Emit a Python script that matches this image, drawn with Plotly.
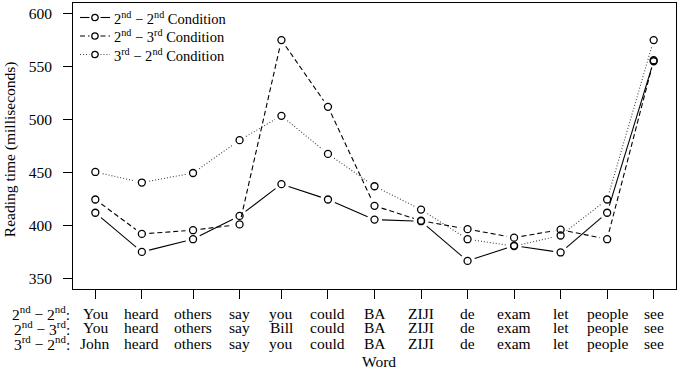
import math
import plotly.graph_objects as go

# ---- data ----
words_22 = ["You", "heard", "others", "say", "you", "could", "BA", "ZIJI", "de", "exam", "let", "people", "see"]
words_23 = ["You", "heard", "others", "say", "Bill", "could", "BA", "ZIJI", "de", "exam", "let", "people", "see"]
words_32 = ["John", "heard", "others", "say", "you", "could", "BA", "ZIJI", "de", "exam", "let", "people", "see"]
x_pos = [1, 2, 3.1, 4.1, 5, 6, 7, 8, 9, 10, 11, 12, 13]
cond22 = [412, 375, 387, 409, 439, 424.5, 405.5, 404, 366.5, 381, 374.5, 412, 555]
cond23 = [424.5, 392, 395.5, 401, 575, 512, 418.5, 404.5, 396.5, 388.5, 396, 387, 556]
cond32 = [450.5, 440.5, 449.5, 480.5, 503.5, 467.5, 437, 415, 387, 380.5, 390.5, 424.5, 575]
y_ticks = [350, 400, 450, 500, 550, 600]
row_prefix = ["2<sup>nd</sup> \u2212 2<sup>nd</sup>:", "2<sup>nd</sup> \u2212 3<sup>rd</sup>:", "3<sup>rd</sup> \u2212 2<sup>nd</sup>:"]
names = ["2<sup>nd</sup> \u2212 2<sup>nd</sup> Condition",
         "2<sup>nd</sup> \u2212 3<sup>rd</sup> Condition",
         "3<sup>rd</sup> \u2212 2<sup>nd</sup> Condition"]

# ---- layout constants ----
W, H = 680, 371
ML, MR, MT, MB = 73, 4, 3, 82
XR = [0.52, 13.48]
YR = [340, 610]
PW, PH = W - ML - MR, H - MT - MB
sx = PW / (XR[1] - XR[0])
sy = PH / (YR[1] - YR[0])
FONT = "Liberation Serif, Times New Roman, serif"


def px_x(p):
    return (p - ML) / PW


def px_y(p):
    return (MT + PH - p) / PH


def gapped(xs, ys, g=7.5):
    X, Y = [], []
    for i in range(len(xs) - 1):
        dx = (xs[i + 1] - xs[i]) * sx
        dy = (ys[i + 1] - ys[i]) * sy
        L = math.hypot(dx, dy)
        if L <= 2 * g:
            continue
        f = g / L
        X += [xs[i] + f * (xs[i + 1] - xs[i]), xs[i + 1] - f * (xs[i + 1] - xs[i]), None]
        Y += [ys[i] + f * (ys[i + 1] - ys[i]), ys[i + 1] - f * (ys[i + 1] - ys[i]), None]
    return X, Y


fig = go.Figure()
styles = [("solid", "black"), ("5px,3px", "black"), ("1px,2px", "#444444")]
series = [cond22, cond23, cond32]
for s, (dash, col), nm in zip(series, styles, names):
    gx, gy = gapped(x_pos, s)
    fig.add_trace(go.Scatter(x=gx, y=gy, mode="lines", line=dict(color=col, width=1.1, dash=dash),
                             showlegend=False, hoverinfo="skip"))
    fig.add_trace(go.Scatter(x=x_pos, y=s, mode="markers", name=nm,
                             marker=dict(symbol="circle-open", size=7, color="black", line=dict(width=1.3)),
                             showlegend=False))

ann = []
shapes = []
# manual legend
leg_rows = [17.5, 36, 54.5]
for (dash, col), nm, ly in zip(styles, names, leg_rows):
    yy = px_y(ly)
    for a, b in [(80, 89.5), (100.5, 110)]:
        shapes.append(dict(type="line", xref="paper", yref="paper", x0=px_x(a), x1=px_x(b), y0=yy, y1=yy,
                           line=dict(color=col, width=1.1, dash=dash)))
    shapes.append(dict(type="circle", xref="paper", yref="paper", xsizemode="pixel", ysizemode="pixel",
                       xanchor=px_x(95), yanchor=yy, x0=-3.2, x1=3.2, y0=-3.2, y1=3.2,
                       line=dict(color="black", width=1.3)))
    ann.append(dict(x=px_x(112), xref="paper", y=yy, yref="paper", text=nm, showarrow=False,
                    xanchor="left", yanchor="middle", font=dict(family=FONT, size=14.5, color="black")))

rows = [words_22, words_23, words_32]
row_y = [-0.084, -0.136, -0.189]
for r, (wl, yy) in enumerate(zip(rows, row_y)):
    ann.append(dict(x=0, xref="paper", y=yy, yref="paper", text=row_prefix[r], showarrow=False,
                    xanchor="right", yanchor="middle", xshift=-1,
                    font=dict(family=FONT, size=15.5, color="black")))
    for xv, w in zip(x_pos, wl):
        ann.append(dict(x=xv, xref="x", y=yy, yref="paper", text=w, showarrow=False,
                        xanchor="center", yanchor="middle",
                        font=dict(family=FONT, size=15.5, color="black")))
ann.append(dict(x=0.508, xref="paper", y=-0.252, yref="paper", text="Word", showarrow=False,
                xanchor="center", yanchor="middle", font=dict(family=FONT, size=15.5, color="black")))
ann.append(dict(x=-0.104, xref="paper", y=0.49, yref="paper", text="Reading time (milliseconds)",
                showarrow=False, textangle=-90, xanchor="center", yanchor="middle",
                font=dict(family=FONT, size=15.5, color="black")))

fig.update_layout(
    width=W, height=H,
    margin=dict(l=ML, r=MR, t=MT, b=MB),
    paper_bgcolor="white", plot_bgcolor="white",
    font=dict(family=FONT, color="black"),
    annotations=ann,
    shapes=shapes,
    showlegend=False,
    xaxis=dict(range=XR, tickvals=x_pos, showticklabels=False, ticks="outside", ticklen=9,
               tickcolor="black", showgrid=False, zeroline=False, showline=True, linecolor="black",
               linewidth=1, mirror=True),
    yaxis=dict(range=YR, tickvals=y_ticks, ticks="outside", ticklen=9, tickcolor="black",
               tickfont=dict(family=FONT, size=15.5, color="black"), ticklabelstandoff=8,
               showgrid=False, zeroline=False, showline=True, linecolor="black", linewidth=1,
               mirror=True),
)

fig.write_html("out.html", config={"displayModeBar": False},
               post_script="document.body.style.margin='0';")
